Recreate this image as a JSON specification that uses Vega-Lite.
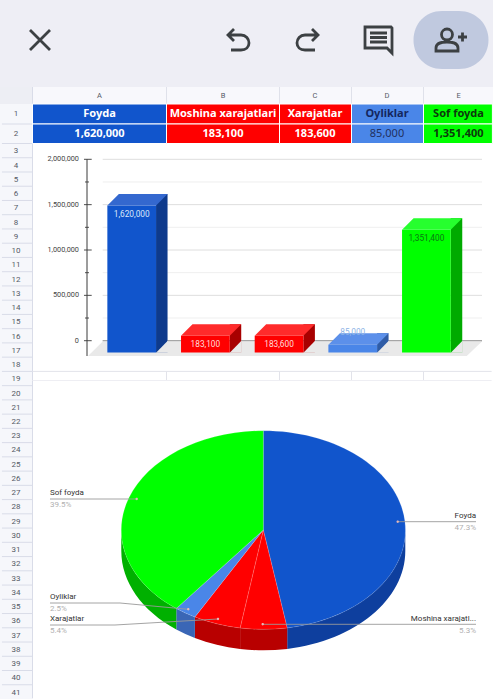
{
"$schema":"https://vega.github.io/schema/vega-lite/v6.json",
"width":493,"height":699,"padding":0,
"autosize":{"type":"fit","contains":"padding"},
"background":"#ffffff",
"config":{"view":{"stroke":null},"axis":{"disable":true},"font":"Roboto"},
"datasets":{
"accounts":[
{"name":"Foyda","letter":"A","value":1620000,"share":0.473,"label":"Foyda","col":1,"next":2,"labelOrder":1},
{"name":"Moshina xarajatlari","letter":"B","value":183100,"share":0.053,"label":"Moshina xarajatl...","col":2,"next":3,"labelOrder":3},
{"name":"Xarajatlar","letter":"C","value":183600,"share":0.054,"label":"Xarajatlar","col":3,"next":4,"labelOrder":4},
{"name":"Oyliklar","letter":"D","value":85000,"share":0.025,"label":"Oyliklar","col":4,"next":5,"labelOrder":2},
{"name":"Sof foyda","letter":"E","value":1351400,"share":0.395,"label":"Sof foyda","col":5,"next":6,"labelOrder":0}],
"ticks":[{"v":0,"major":true},{"v":250000,"major":false},{"v":500000,"major":true},{"v":750000,"major":false},{"v":1000000,"major":true},{"v":1250000,"major":false},{"v":1500000,"major":true},{"v":1750000,"major":false},{"v":2000000,"major":true}],
"rows":[{"n":1},{"n":2},{"n":3},{"n":4},{"n":5},{"n":6},{"n":7},{"n":8},{"n":9},{"n":10},{"n":11},{"n":12},{"n":13},{"n":14},{"n":15},{"n":16},{"n":17},{"n":18},{"n":19},{"n":20},{"n":21},{"n":22},{"n":23},{"n":24},{"n":25},{"n":26},{"n":27},{"n":28},{"n":29},{"n":30},{"n":31},{"n":32},{"n":33},{"n":34},{"n":35},{"n":36},{"n":37},{"n":38},{"n":39},{"n":40},{"n":41}],
"icons":[{"icon":"close","slot":0},{"icon":"undo","slot":1},{"icon":"redo","slot":2},{"icon":"comment","slot":3},{"icon":"share","slot":4}],
"one":[{"panel":"p"}]
},
"data":{"name":"accounts"},
"resolve":{"scale":{"x":"independent","y":"independent","color":"independent","shape":"independent"},"axis":{"x":"independent","y":"independent"}},
"layer":[
{"data":{"name":"one"},"mark":{"type":"rect","fill":"#eeeef5"},"encoding":{
 "x":{"datum":0,"type":"quantitative","scale":{"domain":[0,1],"range":[0,493]}},"x2":{"datum":1},
 "y":{"datum":0,"type":"quantitative","scale":{"domain":[0,1],"range":[0,87]}},"y2":{"datum":1}}},
{"data":{"name":"one"},"mark":{"type":"point","filled":true,"size":4,"opacity":1,"fill":"#c0c9df","shape":"M-9,-29 L8,-29 C25,-29 37.5,-16 37.5,0 C37.5,16 25,29 8,29 L-9,29 C-26,29 -37.5,16 -37.5,0 C-37.5,-16 -26,-29 -9,-29 Z"},"encoding":{
 "x":{"datum":4,"type":"quantitative","scale":{"domain":[0,1,2,3,4],"range":[40,238,308,378,451]}},
 "y":{"datum":0.46,"type":"quantitative","scale":{"domain":[0,1],"range":[0,87]}}}},
{"data":{"name":"icons"},"mark":{"type":"point","filled":false,"size":4,"opacity":1,"stroke":"#3c4043","strokeWidth":2.8},"encoding":{
 "x":{"field":"slot","type":"quantitative","scale":{"domain":[0,1,2,3,4],"range":[40,238,308,378,451]}},
 "y":{"datum":0.46,"type":"quantitative","scale":{"domain":[0,1],"range":[0,87]}},
 "shape":{"field":"icon","type":"nominal","legend":null,"scale":{"domain":["close","undo","redo","comment","share"],"range":[
 "M-10,-10L10,10M10,-10L-10,10",
 "M-4,-11L-10,-5L-4,1M-10,-5L3,-5C8,-5 11,-1 11,3C11,7 8,10 3,10L-7,10",
 "M4,-11L10,-5L4,1M10,-5L-3,-5C-8,-5 -11,-1 -11,3C-11,7 -8,10 -3,10L7,10",
 "M-13,-13L13,-13L14,-12L14,13L9,8L-13,8ZM-8,-7L9,-7M-8,-2.5L9,-2.5M-8,2L9,2",
 "M1.5,-5.5A5.5,5.5 0 1 0 -9.5,-5.5A5.5,5.5 0 1 0 1.5,-5.5M-15,11L-15,8C-15,3 -9,2 -4,2C1,2 7,3 7,8L7,11ZM7,-3L16,-3M11.5,-7.5L11.5,1.5"]}}}},

{"data":{"name":"one"},"mark":{"type":"rect","fill":"#f6f7fb"},"encoding":{
 "x":{"datum":0,"type":"quantitative","scale":{"domain":[0,1,2,3,4,5,6],"range":[0,32.5,166.5,279.5,351.5,423.5,492.5]}},"x2":{"datum":1},
 "y":{"datum":0,"type":"quantitative","scale":{"domain":[-1,0,1,2,41],"range":[87,104,124,143.5,699]}},"y2":{"datum":41}}},
{"data":{"name":"one"},"mark":{"type":"rect","fill":"#f8f8fc"},"encoding":{
 "x":{"datum":1,"type":"quantitative","scale":{"domain":[0,1,2,3,4,5,6],"range":[0,32.5,166.5,279.5,351.5,423.5,493]}},"x2":{"datum":6},
 "y":{"datum":-1,"type":"quantitative","scale":{"domain":[-1,0,1,2,41],"range":[87,104,124,143.5,699]}},"y2":{"datum":0}}},
{"data":{"name":"one"},"mark":{"type":"rect","fill":"#edeef4"},"encoding":{
 "x":{"datum":0,"type":"quantitative","scale":{"domain":[0,1,2,3,4,5,6],"range":[0,32.5,166.5,279.5,351.5,423.5,493]}},"x2":{"datum":1},
 "y":{"datum":-1,"type":"quantitative","scale":{"domain":[-1,0,1,2,41],"range":[87,104,124,143.5,699]}},"y2":{"datum":0}}},
{"data":{"name":"rows"},"transform":[{"filter":"datum.n<41"}],"mark":{"type":"rule","stroke":"#d9dce8","strokeWidth":1},"encoding":{
 "x":{"datum":0.06,"type":"quantitative","scale":{"domain":[0,1,2,3,4,5,6],"range":[0,32.5,166.5,279.5,351.5,423.5,493]}},"x2":{"datum":1},
 "y":{"field":"n","type":"quantitative","scale":{"domain":[-1,0,1,2,41],"range":[87,104,124,143.5,699]}}}},
{"data":{"name":"one"},"mark":{"type":"rule","stroke":"#d9dce8","strokeWidth":1},"encoding":{
 "x":{"datum":1,"type":"quantitative","scale":{"domain":[0,1,2,3,4,5,6],"range":[0,32.5,166.5,279.5,351.5,423.5,493]}},
 "y":{"datum":-1,"type":"quantitative","scale":{"domain":[-1,0,1,2,41],"range":[87,104,124,143.5,699]}},"y2":{"datum":40.95}}},
{"mark":{"type":"rule","stroke":"#dfe1ea","strokeWidth":1},"transform":[{"filter":"datum.col<5"}],"encoding":{
 "x":{"field":"next","type":"quantitative","scale":{"domain":[0,1,2,3,4,5,6],"range":[0,32.5,166.5,279.5,351.5,423.5,493]}},
 "y":{"datum":-1,"type":"quantitative","scale":{"domain":[-1,0,1,2,41],"range":[87,104,124,143.5,699]}},"y2":{"datum":0}}},
{"mark":{"type":"rule","stroke":"#e2e3ea","strokeWidth":1},"transform":[{"filter":"datum.col<5"}],"encoding":{
 "x":{"field":"next","type":"quantitative","scale":{"domain":[0,1,2,3,4,5,6],"range":[0,32.5,166.5,279.5,351.5,423.5,493]}},
 "y":{"datum":18,"type":"quantitative","scale":{"domain":[-1,0,1,2,41],"range":[87,104,124,143.5,699]}},"y2":{"datum":18.64}}},
{"data":{"name":"one"},"mark":{"type":"rule","stroke":"#e2e3ea","strokeWidth":1},"encoding":{
 "x":{"datum":1,"type":"quantitative","scale":{"domain":[0,1,2,3,4,5,6],"range":[0,32.5,166.5,279.5,351.5,423.5,493]}},"x2":{"datum":5.98},
 "y":{"datum":18,"type":"quantitative","scale":{"domain":[-1,0,1,2,41],"range":[87,104,124,143.5,699]}}}},
{"data":{"name":"one"},"mark":{"type":"rule","stroke":"#eeeef3","strokeWidth":1},"encoding":{
 "x":{"datum":1,"type":"quantitative","scale":{"domain":[0,1,2,3,4,5,6],"range":[0,32.5,166.5,279.5,351.5,423.5,493]}},"x2":{"datum":5.98},
 "y":{"datum":18.64,"type":"quantitative","scale":{"domain":[-1,0,1,2,41],"range":[87,104,124,143.5,699]}}}},
{"data":{"name":"rows"},"mark":{"type":"text","font":"Roboto","fontSize":8,"fill":"#555a66","baseline":"middle"},"encoding":{
 "x":{"datum":0,"type":"quantitative","scale":{"domain":[0,1],"range":[16,493]}},
 "y":{"field":"n","type":"quantitative","scale":{"domain":[1,2,3,41],"range":[114,134,151.3,692.7]}},
 "text":{"field":"n","type":"nominal"}}},
{"mark":{"type":"text","font":"Roboto","fontSize":7.5,"fill":"#555a66","baseline":"middle"},"encoding":{
 "x":{"field":"col","type":"quantitative","scale":{"domain":[1,2,3,4,5],"range":[99.5,223,315,387,458.5]}},
 "y":{"datum":0,"type":"quantitative","scale":{"domain":[0,1],"range":[95.5,114]}},
 "text":{"field":"letter"}}},
{"mark":{"type":"rect","stroke":"#ffffff","strokeWidth":1},"encoding":{
 "x":{"field":"col","type":"quantitative","scale":{"domain":[0,1,2,3,4,5,6],"range":[0,32.5,166.5,279.5,351.5,423.5,492.4]}},"x2":{"field":"next"},
 "y":{"datum":0,"type":"quantitative","scale":{"domain":[-1,0,1,2,41],"range":[87,104,124,143.5,699]}},"y2":{"datum":1},
 "color":{"field":"name","type":"nominal","legend":null,"scale":{"domain":["Foyda","Moshina xarajatlari","Xarajatlar","Oyliklar","Sof foyda"],"range":["#1155cc","#ff0000","#ff0000","#4a86e8","#00ff00"]}}}},
{"mark":{"type":"rect","stroke":"#ffffff","strokeWidth":1},"encoding":{
 "x":{"field":"col","type":"quantitative","scale":{"domain":[0,1,2,3,4,5,6],"range":[0,32.5,166.5,279.5,351.5,423.5,492.4]}},"x2":{"field":"next"},
 "y":{"datum":1,"type":"quantitative","scale":{"domain":[-1,0,1,2,41],"range":[87,104,124,143.5,699]}},"y2":{"datum":2},
 "color":{"field":"name","type":"nominal","legend":null,"scale":{"domain":["Foyda","Moshina xarajatlari","Xarajatlar","Oyliklar","Sof foyda"],"range":["#1155cc","#ff0000","#ff0000","#4a86e8","#00ff00"]}}}},
{"mark":{"type":"text","font":"Noto Sans","fontSize":11,"fontWeight":"bold","baseline":"middle"},"encoding":{
 "x":{"field":"col","type":"quantitative","scale":{"domain":[1,2,3,4,5],"range":[99.5,223,315,387,458.5]}},
 "y":{"datum":0,"type":"quantitative","scale":{"domain":[0,1],"range":[114,134]}},
 "text":{"field":"name"},
 "color":{"field":"name","type":"nominal","legend":null,"scale":{"domain":["Foyda","Moshina xarajatlari","Xarajatlar","Oyliklar","Sof foyda"],"range":["#ffffff","#ffffff","#ffffff","#14265e","#0c3a0c"]}}}},
{"transform":[{"filter":"datum.name!='Oyliklar'"}],"mark":{"type":"text","font":"Noto Sans","fontSize":11,"fontWeight":"bold","baseline":"middle"},"encoding":{
 "x":{"field":"col","type":"quantitative","scale":{"domain":[1,2,3,4,5],"range":[99.5,223,315,387,458.5]}},
 "y":{"datum":1,"type":"quantitative","scale":{"domain":[0,1],"range":[114,134]}},
 "text":{"field":"value","type":"quantitative","format":",d"},
 "color":{"field":"name","type":"nominal","legend":null,"scale":{"domain":["Foyda","Moshina xarajatlari","Xarajatlar","Sof foyda"],"range":["#ffffff","#ffffff","#ffffff","#0c3a0c"]}}}},
{"transform":[{"filter":"datum.name=='Oyliklar'"}],"mark":{"type":"text","font":"Noto Sans","fontSize":11,"baseline":"middle","fill":"#22315f"},"encoding":{
 "x":{"field":"col","type":"quantitative","scale":{"domain":[1,2,3,4,5],"range":[99.5,223,315,387,458.5]}},
 "y":{"datum":1,"type":"quantitative","scale":{"domain":[0,1],"range":[114,134]}},
 "text":{"field":"value","type":"quantitative","format":",d"}}},

{"data":{"name":"ticks"},"transform":[{"filter":"!datum.major"}],"mark":{"type":"rule","stroke":"#efefef","strokeWidth":1},"encoding":{
 "x":{"datum":0.0397,"type":"quantitative","scale":{"domain":[0,1],"range":[87,482]}},"x2":{"datum":1},
 "y":{"field":"v","type":"quantitative","scale":{"domain":[0,2000000],"range":[340.7,159.3]}}}},
{"data":{"name":"ticks"},"transform":[{"filter":"datum.major"}],"mark":{"type":"rule","stroke":"#dedede","strokeWidth":1},"encoding":{
 "x":{"datum":0.0397,"type":"quantitative","scale":{"domain":[0,1],"range":[87,482]}},"x2":{"datum":1},
 "y":{"field":"v","type":"quantitative","scale":{"domain":[0,2000000],"range":[340.7,159.3]}}}},
{"data":{"name":"ticks"},"transform":[{"filter":"datum.major"}],"mark":{"type":"text","font":"Roboto","fontSize":7.3,"fill":"#444444","align":"right","baseline":"middle"},"encoding":{
 "x":{"datum":-0.0203,"type":"quantitative","scale":{"domain":[0,1],"range":[87,482]}},
 "y":{"field":"v","type":"quantitative","scale":{"domain":[0,2000000],"range":[340.7,159.3]}},
 "text":{"field":"v","type":"quantitative","format":",d"}}},
{"data":{"name":"one"},"mark":{"type":"rule","stroke":"#a6a6a6","strokeWidth":1.6},"encoding":{
 "x":{"datum":0.0397,"type":"quantitative","scale":{"domain":[0,1],"range":[87,482]}},"x2":{"datum":1},
 "y":{"datum":0,"type":"quantitative","scale":{"domain":[0,2000000],"range":[340.7,159.3]}}}},
{"data":{"name":"one"},"mark":{"type":"point","filled":true,"size":4,"opacity":1,"fill":"#e9e9e9","shape":"M15.7,0.8L395,0.8L379.7,15.3L1,15.3Z"},"encoding":{
 "x":{"datum":0,"type":"quantitative","scale":{"domain":[0,1],"range":[87,482]}},
 "y":{"datum":0,"type":"quantitative","scale":{"domain":[0,2000000],"range":[340.7,159.3]}}}},
{"data":{"name":"one"},"mark":{"type":"rule","stroke":"#3a3a3a","strokeWidth":1},"encoding":{
 "x":{"datum":0,"type":"quantitative","scale":{"domain":[0,1],"range":[87,482]}},
 "y":{"datum":2000000,"type":"quantitative","scale":{"domain":[0,2000000],"range":[340.7,159.3]}},"y2":{"datum":-168700}}},
{"data":{"name":"ticks"},"mark":{"type":"rule","stroke":"#3a3a3a","strokeWidth":0.9},"transform":[{"filter":"datum.major"}],"encoding":{
 "x":{"datum":-0.0076,"type":"quantitative","scale":{"domain":[0,1],"range":[87,482]}},"x2":{"datum":0.0119},
 "y":{"field":"v","type":"quantitative","scale":{"domain":[0,2000000],"range":[340.7,159.3]}}}},
{"data":{"name":"ticks"},"mark":{"type":"rule","stroke":"#3a3a3a","strokeWidth":0.9},"transform":[{"filter":"!datum.major"}],"encoding":{
 "x":{"datum":-0.005,"type":"quantitative","scale":{"domain":[0,1],"range":[87,482]}},"x2":{"datum":0.005},
 "y":{"field":"v","type":"quantitative","scale":{"domain":[0,2000000],"range":[340.7,159.3]}}}},

{"mark":{"type":"bar","size":11.5,"xOffset":30.1,"yOffset":-11.5},"encoding":{
 "x":{"field":"name","type":"nominal","sort":null,"scale":{"type":"point","padding":0,"domain":["Foyda","Moshina xarajatlari","Xarajatlar","Oyliklar","Sof foyda"],"range":[131.7,426.4]}},
 "y":{"field":"value","type":"quantitative","stack":null,"scale":{"domain":[0,2000000],"range":[352.4,171]}},
 "color":{"field":"name","type":"nominal","legend":null,"scale":{"domain":["Foyda","Moshina xarajatlari","Xarajatlar","Oyliklar","Sof foyda"],"range":["#0e3a8c","#a80000","#a80000","#2f5ca6","#00aa00"]}}}},
{"mark":{"type":"point","filled":true,"size":4,"opacity":1,"fill":"#e9e9e9","shape":"M24.35,0.3L36.3,0.3L36.3,-12Z"},"encoding":{
 "x":{"field":"name","type":"nominal","sort":null,"scale":{"type":"point","padding":0,"domain":["Foyda","Moshina xarajatlari","Xarajatlar","Oyliklar","Sof foyda"],"range":[131.7,426.4]}},
 "y":{"datum":0,"type":"quantitative","scale":{"domain":[0,2000000],"range":[352.4,171]}}}},
{"mark":{"type":"bar","size":48.7},"encoding":{
 "x":{"field":"name","type":"nominal","sort":null,"scale":{"type":"point","padding":0,"domain":["Foyda","Moshina xarajatlari","Xarajatlar","Oyliklar","Sof foyda"],"range":[131.7,426.4]}},
 "y":{"field":"value","type":"quantitative","stack":null,"scale":{"domain":[0,2000000],"range":[352.4,171]}},
 "color":{"field":"name","type":"nominal","legend":null,"scale":{"domain":["Foyda","Moshina xarajatlari","Xarajatlar","Oyliklar","Sof foyda"],"range":["#1155cc","#ff0000","#ff0000","#4a86e8","#00ff00"]}}}},
{"mark":{"type":"point","filled":true,"size":4,"opacity":1,"shape":"M-24.35,0L-12.85,-11.5L35.85,-11.5L24.35,0Z"},"encoding":{
 "x":{"field":"name","type":"nominal","sort":null,"scale":{"type":"point","padding":0,"domain":["Foyda","Moshina xarajatlari","Xarajatlar","Oyliklar","Sof foyda"],"range":[131.7,426.4]}},
 "y":{"field":"value","type":"quantitative","scale":{"domain":[0,2000000],"range":[352.4,171]}},
 "color":{"field":"name","type":"nominal","legend":null,"scale":{"domain":["Foyda","Moshina xarajatlari","Xarajatlar","Oyliklar","Sof foyda"],"range":["#3468cf","#ff2b2b","#ff2b2b","#5c90ea","#26ff2e"]}}}},
{"transform":[{"filter":"datum.name!='Oyliklar'"}],"mark":{"type":"text","font":"Roboto","fontSize":8.3,"dy":9.5,"baseline":"middle"},"encoding":{
 "x":{"field":"name","type":"nominal","sort":null,"scale":{"type":"point","padding":0,"domain":["Foyda","Moshina xarajatlari","Xarajatlar","Oyliklar","Sof foyda"],"range":[131.7,426.4]}},
 "y":{"field":"value","type":"quantitative","scale":{"domain":[0,2000000],"range":[352.4,171]}},
 "text":{"field":"value","type":"quantitative","format":",d"},
 "color":{"field":"name","type":"nominal","legend":null,"scale":{"domain":["Foyda","Moshina xarajatlari","Xarajatlar","Sof foyda"],"range":["#dbe8fa","#ffdcdc","#ffdcdc","#0a7a12"]}}}},
{"transform":[{"filter":"datum.name=='Oyliklar'"}],"mark":{"type":"text","font":"Roboto","fontSize":8.3,"dy":-11.5,"baseline":"middle","fill":"#8db4e6"},"encoding":{
 "x":{"field":"name","type":"nominal","sort":null,"scale":{"type":"point","padding":0,"domain":["Foyda","Moshina xarajatlari","Xarajatlar","Oyliklar","Sof foyda"],"range":[131.7,426.4]}},
 "y":{"field":"value","type":"quantitative","scale":{"domain":[0,2000000],"range":[352.4,171]}},
 "text":{"field":"value","type":"quantitative","format":",d"}}},

{"mark":{"type":"point","filled":true,"size":4,"opacity":1},"encoding":{
 "x":{"datum":0,"type":"quantitative","scale":{"domain":[-1,1],"range":[121.3,405.3]}},
 "y":{"datum":0,"type":"quantitative","scale":{"domain":[-1,1],"range":[629.3,430.7]}},
 "shape":{"field":"name","type":"nominal","legend":null,"scale":{"domain":["Foyda","Moshina xarajatlari","Xarajatlar","Oyliklar","Sof foyda"],"range":[
  "M142,0A142,99.3 0 0 1 23.9,97.9L23.9,118.9A142,99.3 0 0 0 142,21Z",
  "M23.9,97.9A142,99.3 0 0 1 -23.2,98L-23.2,119A142,99.3 0 0 0 23.9,118.9Z",
  "M-23.2,98A142,99.3 0 0 1 -68.4,87L-68.4,108A142,99.3 0 0 0 -23.2,119Z",
  "M-68.4,87A142,99.3 0 0 1 -87,78.5L-87,99.5A142,99.3 0 0 0 -68.4,108Z",
  "M-87,78.5A142,99.3 0 0 1 -142,0L-142,21A142,99.3 0 0 0 -87,99.5Z"]}},
 "color":{"field":"name","type":"nominal","legend":null,"scale":{"domain":["Foyda","Moshina xarajatlari","Xarajatlar","Oyliklar","Sof foyda"],"range":["#0e3f9e","#b80000","#b80000","#3a66b6","#00b000"]}}}},
{"mark":{"type":"point","filled":true,"size":4,"opacity":1,"stroke":"#ffffff","strokeOpacity":0.25,"strokeWidth":0.6},"encoding":{
 "x":{"datum":0,"type":"quantitative","scale":{"domain":[-1,1],"range":[121.3,405.3]}},
 "y":{"datum":0,"type":"quantitative","scale":{"domain":[-1,1],"range":[629.3,430.7]}},
 "shape":{"field":"name","type":"nominal","legend":null,"scale":{"domain":["Foyda","Moshina xarajatlari","Xarajatlar","Oyliklar","Sof foyda"],"range":[
  "M0,0L0,-99.3A142,99.3 0 0 1 23.9,97.9Z",
  "M0,0L23.9,97.9A142,99.3 0 0 1 -23.2,98Z",
  "M0,0L-23.2,98A142,99.3 0 0 1 -68.4,87Z",
  "M0,0L-68.4,87A142,99.3 0 0 1 -87,78.5Z",
  "M0,0L-87,78.5A142,99.3 0 0 1 0,-99.3Z"]}},
 "color":{"field":"name","type":"nominal","legend":null,"scale":{"domain":["Foyda","Moshina xarajatlari","Xarajatlar","Oyliklar","Sof foyda"],"range":["#1155cc","#ff0000","#ff0000","#4a86e8","#00ff00"]}}}},
{"mark":{"type":"point","filled":false,"size":4,"opacity":1,"stroke":"#9a9a9a","strokeWidth":0.9},"encoding":{
 "x":{"datum":0,"type":"quantitative","scale":{"domain":[-1,1],"range":[121.3,405.3]}},
 "y":{"datum":0,"type":"quantitative","scale":{"domain":[-1,1],"range":[629.3,430.7]}},
 "shape":{"field":"name","type":"nominal","legend":null,"scale":{"domain":["Foyda","Moshina xarajatlari","Xarajatlar","Oyliklar","Sof foyda"],"range":[
  "M134.4,-8.3L212.7,-8.3",
  "M-0.6,94.3L212.7,94.3",
  "M-213.3,95L-148.3,95L-45.3,89",
  "M-213.3,73L-143.3,73L-75,79.3",
  "M-213.3,-31L-126.6,-31"]}}}},
{"mark":{"type":"point","filled":true,"size":4,"opacity":1,"fill":"#e6b8b8"},"encoding":{
 "x":{"datum":0,"type":"quantitative","scale":{"domain":[-1,1],"range":[121.3,405.3]}},
 "y":{"datum":0,"type":"quantitative","scale":{"domain":[-1,1],"range":[629.3,430.7]}},
 "shape":{"field":"name","type":"nominal","legend":null,"scale":{"domain":["Foyda","Moshina xarajatlari","Xarajatlar","Oyliklar","Sof foyda"],"range":[
  "M133.2,-8.3A1.2,1.2 0 1 0 135.6,-8.3A1.2,1.2 0 1 0 133.2,-8.3Z",
  "M-1.8,94.3A1.2,1.2 0 1 0 0.6,94.3A1.2,1.2 0 1 0 -1.8,94.3Z",
  "M-46.5,89A1.2,1.2 0 1 0 -44.1,89A1.2,1.2 0 1 0 -46.5,89Z",
  "M-76.2,79.3A1.2,1.2 0 1 0 -73.8,79.3A1.2,1.2 0 1 0 -76.2,79.3Z",
  "M-127.8,-31A1.2,1.2 0 1 0 -125.4,-31A1.2,1.2 0 1 0 -127.8,-31Z"]}}}},
{"transform":[{"filter":"datum.col==1||datum.col==2"}],"mark":{"type":"text","font":"Roboto","fontSize":8,"align":"right","baseline":"middle","fill":"#333333"},"encoding":{
 "x":{"datum":1,"type":"quantitative","scale":{"domain":[0,1],"range":[50,476]}},
 "y":{"field":"labelOrder","type":"quantitative","scale":{"domain":[0,1,2,3,4],"range":[493,516,597,618.7,619]}},
 "text":{"field":"label"}}},
{"transform":[{"filter":"datum.col==1||datum.col==2"}],"mark":{"type":"text","font":"Roboto","fontSize":8,"align":"right","baseline":"middle","fill":"#b0b0b0","dy":12},"encoding":{
 "x":{"datum":1,"type":"quantitative","scale":{"domain":[0,1],"range":[50,476]}},
 "y":{"field":"labelOrder","type":"quantitative","scale":{"domain":[0,1,2,3,4],"range":[493,516,597,618.7,619]}},
 "text":{"field":"share","type":"quantitative","format":".1%"}}},
{"transform":[{"filter":"datum.col>2"}],"mark":{"type":"text","font":"Roboto","fontSize":8,"align":"left","baseline":"middle","fill":"#333333"},"encoding":{
 "x":{"datum":0,"type":"quantitative","scale":{"domain":[0,1],"range":[50,476]}},
 "y":{"field":"labelOrder","type":"quantitative","scale":{"domain":[0,1,2,3,4],"range":[493,516,597,618.7,619]}},
 "text":{"field":"label"}}},
{"transform":[{"filter":"datum.col>2"}],"mark":{"type":"text","font":"Roboto","fontSize":8,"align":"left","baseline":"middle","fill":"#b0b0b0","dy":12},"encoding":{
 "x":{"datum":0,"type":"quantitative","scale":{"domain":[0,1],"range":[50,476]}},
 "y":{"field":"labelOrder","type":"quantitative","scale":{"domain":[0,1,2,3,4],"range":[493,516,597,618.7,619]}},
 "text":{"field":"share","type":"quantitative","format":".1%"}}}
]
}
